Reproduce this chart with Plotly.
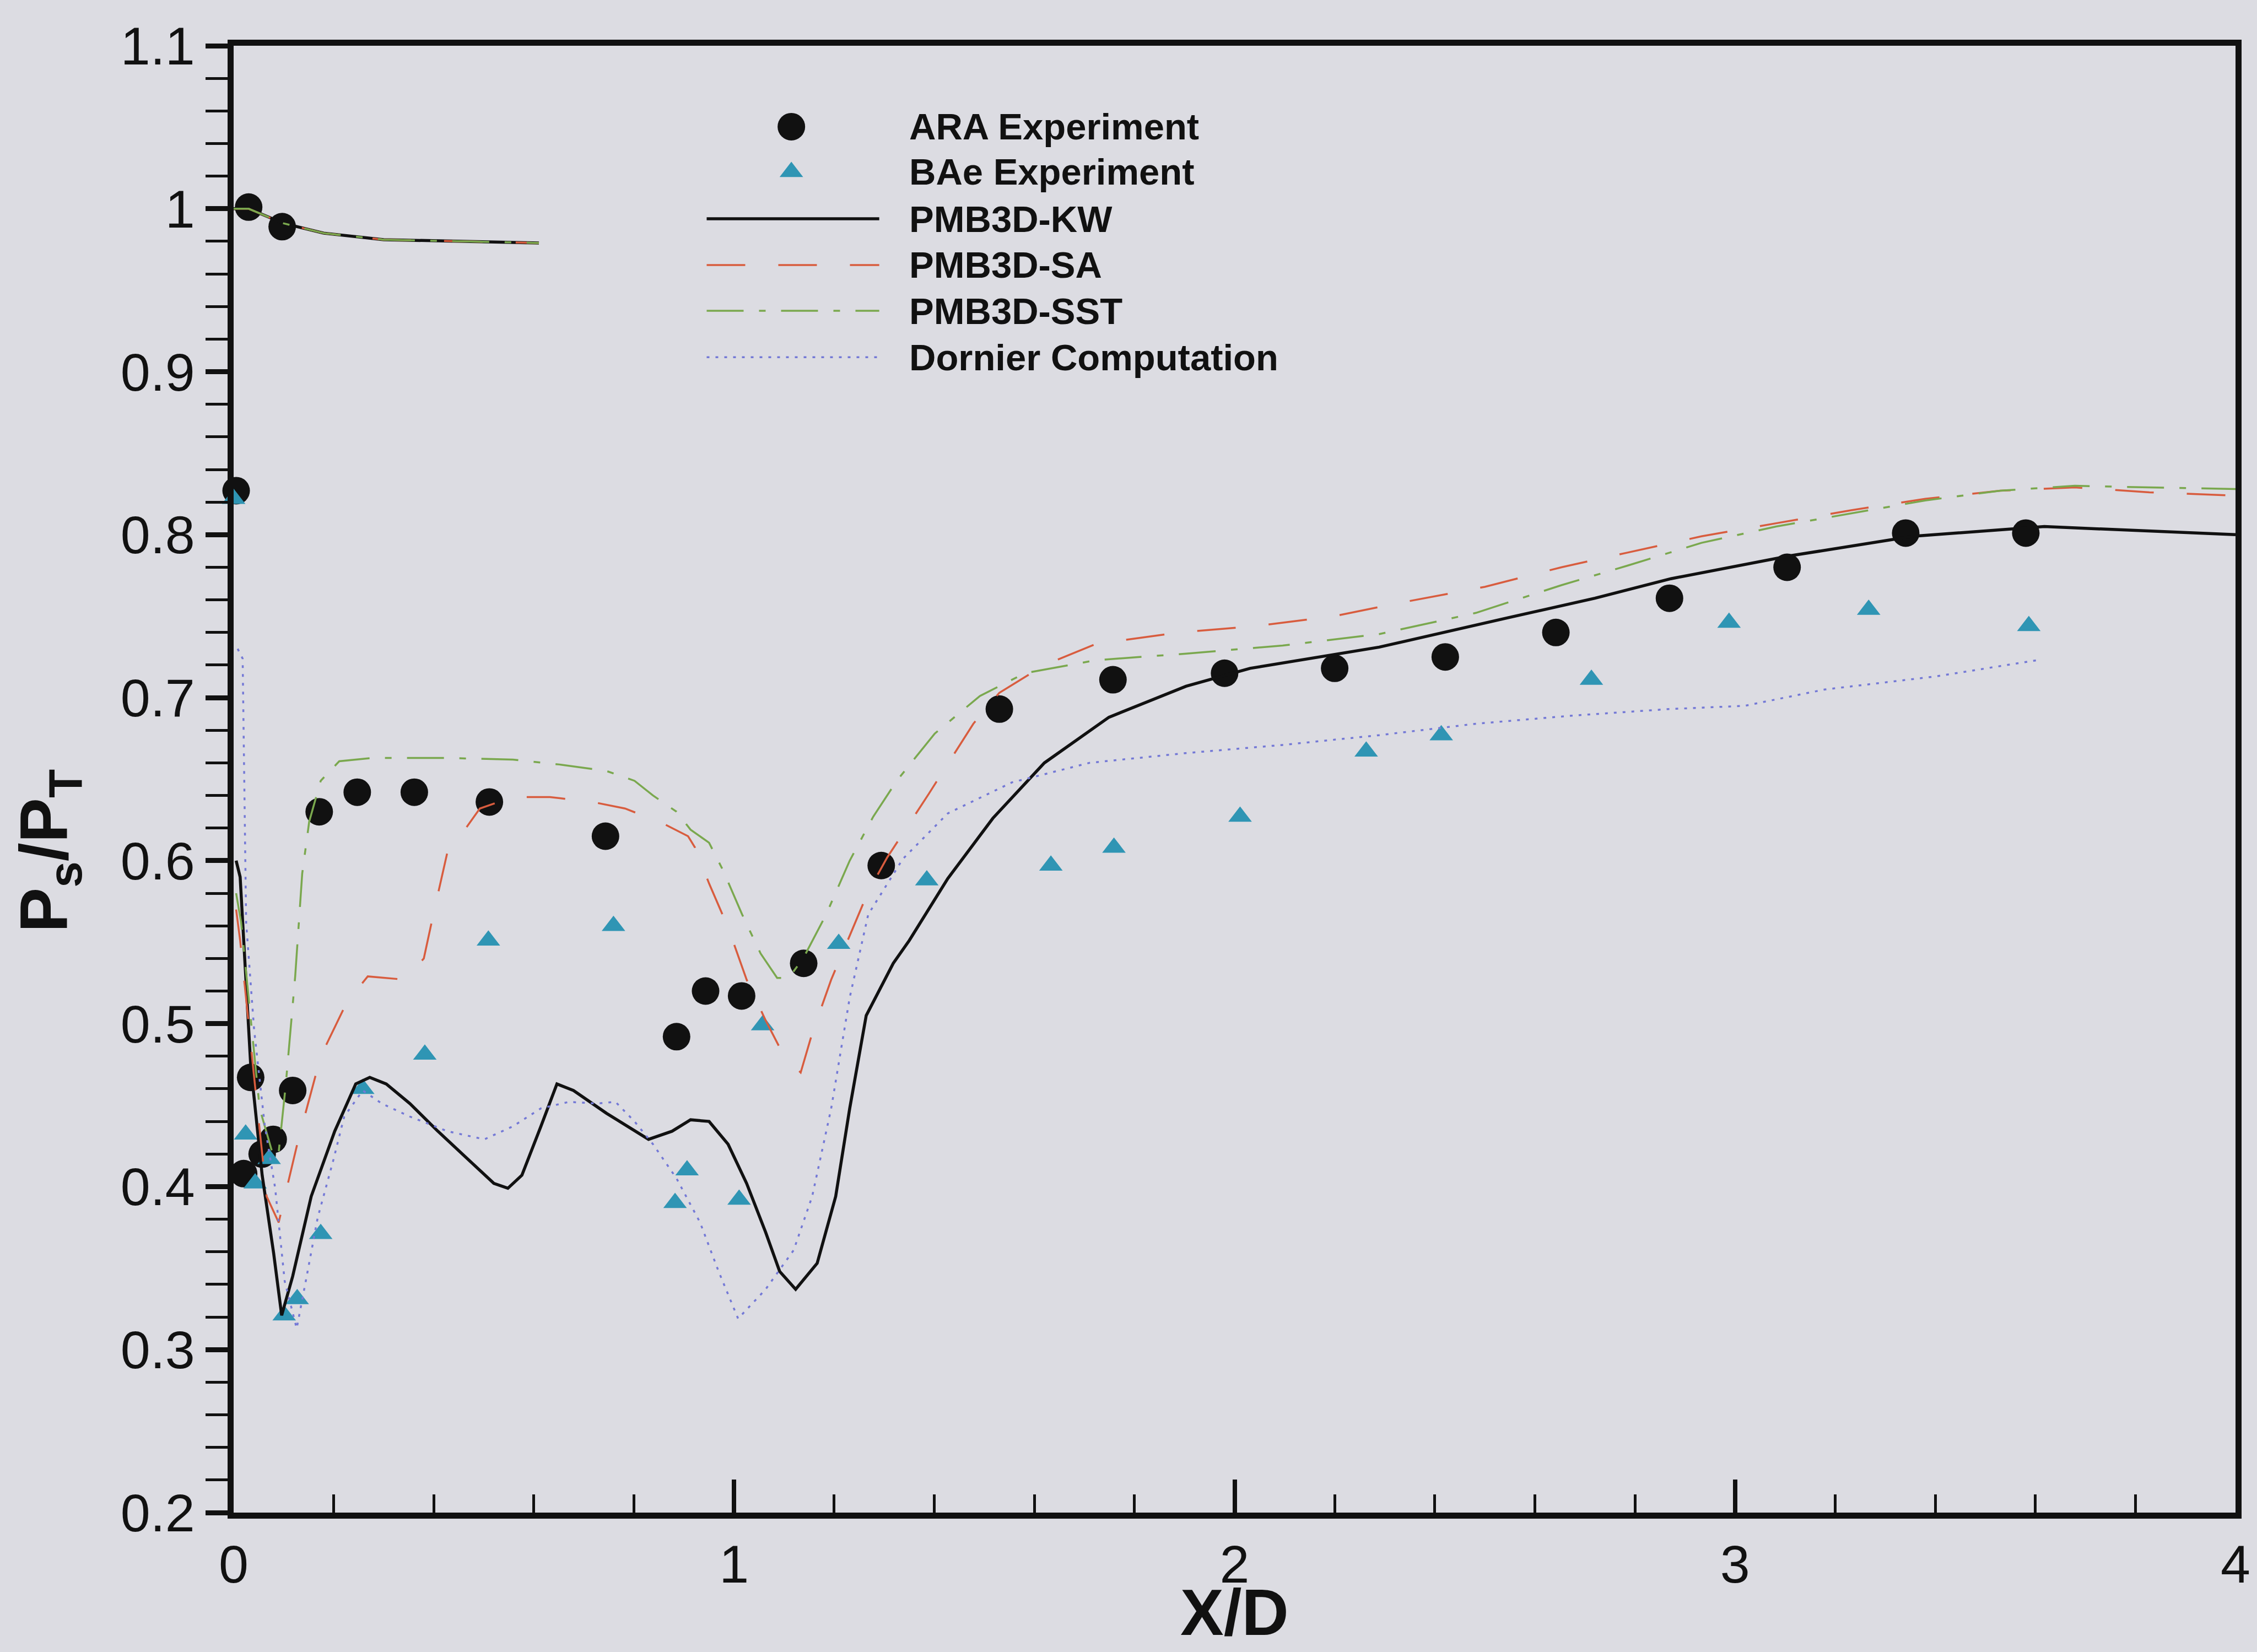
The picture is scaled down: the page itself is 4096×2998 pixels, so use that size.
import plotly.graph_objects as go

# ---------------------------------------------------------------------------
# Surface static pressure ratio along the duct, P_s/P_T versus X/D
# ---------------------------------------------------------------------------

# ARA experiment (filled circles)
ara_x = [0.005, 0.030, 0.097, 0.020, 0.034, 0.057, 0.079, 0.118, 0.171, 0.247,
         0.361, 0.511, 0.743, 0.885, 0.943, 1.015, 1.139, 1.294, 1.530, 1.757,
         1.980, 2.200, 2.421, 2.642, 2.869, 3.104, 3.341, 3.581]
ara_y = [0.827, 1.001, 0.989, 0.408, 0.467, 0.420, 0.429, 0.459, 0.630, 0.642,
         0.642, 0.636, 0.615, 0.492, 0.520, 0.517, 0.537, 0.597, 0.693, 0.711,
         0.715, 0.718, 0.725, 0.740, 0.761, 0.780, 0.801, 0.801]

# BAe experiment (triangles)
bae_x = [0.000, 0.024, 0.043, 0.071, 0.101, 0.127, 0.174, 0.258, 0.382, 0.509,
         0.759, 0.882, 0.906, 1.010, 1.057, 1.209, 1.385, 1.633, 1.759, 2.011,
         2.263, 2.413, 2.713, 2.988, 3.267, 3.587]
bae_y = [0.822, 0.432, 0.402, 0.417, 0.321, 0.331, 0.371, 0.460, 0.481, 0.551,
         0.560, 0.390, 0.410, 0.392, 0.499, 0.549, 0.588, 0.597, 0.608, 0.627,
         0.667, 0.677, 0.711, 0.746, 0.754, 0.744]

# Cowl lip (upper branch) shared by the three PMB3D solutions
lip_x = [0.00, 0.03, 0.10, 0.18, 0.30, 0.45, 0.61]
lip_y = [1.000, 1.000, 0.991, 0.985, 0.981, 0.980, 0.979]

# PMB3D k-omega
kw_x = [0.005, 0.013, 0.034, 0.057, 0.080, 0.096, 0.118, 0.155, 0.202, 0.244,
        0.272, 0.305, 0.352, 0.408, 0.464, 0.520, 0.548, 0.576, 0.614, 0.646,
        0.679, 0.745, 0.829, 0.876, 0.913, 0.950, 0.988, 1.025, 1.063, 1.091,
        1.123, 1.166, 1.203, 1.231, 1.264, 1.318, 1.350, 1.427, 1.517, 1.620,
        1.749, 1.903, 2.031, 2.289, 2.546, 2.720, 2.872, 3.109, 3.355, 3.618,
        4.000]
kw_y = [0.600, 0.590, 0.475, 0.407, 0.359, 0.321, 0.345, 0.394, 0.434, 0.463,
        0.467, 0.463, 0.451, 0.434, 0.418, 0.402, 0.399, 0.407, 0.437, 0.463,
        0.459, 0.445, 0.429, 0.434, 0.441, 0.440, 0.426, 0.402, 0.372, 0.348,
        0.337, 0.353, 0.394, 0.448, 0.505, 0.537, 0.551, 0.589, 0.626, 0.660,
        0.688, 0.707, 0.718, 0.731, 0.749, 0.761, 0.773, 0.787, 0.799, 0.805,
        0.800]

# PMB3D Spalart-Allmaras
sa_x = [0.005, 0.013, 0.040, 0.066, 0.090, 0.127, 0.174, 0.226, 0.268, 0.342,
        0.380, 0.399, 0.427, 0.455, 0.492, 0.558, 0.632, 0.717, 0.782, 0.857,
        0.908, 0.922, 0.950, 0.988, 1.025, 1.063, 1.100, 1.133, 1.156, 1.194,
        1.231, 1.268, 1.306, 1.389, 1.478, 1.530, 1.620, 1.723, 1.890, 2.045,
        2.199, 2.327, 2.500, 2.653, 2.785, 2.933, 3.082, 3.232, 3.380, 3.530,
        3.679, 3.828, 4.000]
sa_y = [0.570, 0.551, 0.470, 0.394, 0.378, 0.426, 0.480, 0.513, 0.529, 0.527,
        0.540, 0.567, 0.605, 0.616, 0.632, 0.639, 0.639, 0.636, 0.632, 0.623,
        0.615, 0.608, 0.586, 0.559, 0.527, 0.502, 0.480, 0.470, 0.494, 0.527,
        0.554, 0.581, 0.602, 0.641, 0.684, 0.703, 0.720, 0.733, 0.740, 0.744,
        0.750, 0.758, 0.768, 0.780, 0.789, 0.799, 0.807, 0.815, 0.822, 0.827,
        0.829, 0.826, 0.824]

# PMB3D k-omega SST
sst_x = [0.005, 0.015, 0.052, 0.080, 0.090, 0.104, 0.123, 0.137, 0.151, 0.174,
         0.211, 0.277, 0.427, 0.558, 0.651, 0.745, 0.801, 0.838, 0.885, 0.913,
         0.950, 0.978, 1.016, 1.053, 1.086, 1.109, 1.138, 1.184, 1.231, 1.278,
         1.325, 1.401, 1.491, 1.581, 1.723, 1.903, 2.096, 2.289, 2.482, 2.653,
         2.785, 2.933, 3.082, 3.232, 3.380, 3.530, 3.679, 3.828, 4.000]
sst_y = [0.580, 0.562, 0.448, 0.418, 0.421, 0.462, 0.529, 0.592, 0.624, 0.649,
         0.661, 0.663, 0.663, 0.662, 0.659, 0.655, 0.649, 0.640, 0.630, 0.619,
         0.611, 0.594, 0.567, 0.543, 0.528, 0.528, 0.540, 0.567, 0.600, 0.627,
         0.649, 0.678, 0.701, 0.715, 0.723, 0.727, 0.732, 0.739, 0.752, 0.769,
         0.781, 0.795, 0.805, 0.813, 0.821, 0.827, 0.830, 0.829, 0.828]

# Dornier computation
dornier_x = [0.008, 0.018, 0.025, 0.041, 0.062, 0.083, 0.102, 0.126, 0.146, 0.168,
             0.199, 0.221, 0.258, 0.296, 0.352, 0.427, 0.501, 0.558, 0.614, 0.670,
             0.726, 0.763, 0.801, 0.838, 0.885, 0.932, 0.969, 1.008, 1.063, 1.119,
             1.156, 1.194, 1.231, 1.268, 1.337, 1.427, 1.555, 1.710, 1.903, 2.096,
             2.289, 2.482, 2.675, 2.868, 3.019, 3.179, 3.400, 3.604]
dornier_y = [0.730, 0.724, 0.562, 0.496, 0.438, 0.399, 0.342, 0.313, 0.345, 0.381,
             0.416, 0.443, 0.459, 0.451, 0.443, 0.434, 0.429, 0.437, 0.448, 0.452,
             0.451, 0.452, 0.440, 0.426, 0.405, 0.378, 0.348, 0.319, 0.337, 0.361,
             0.394, 0.448, 0.516, 0.567, 0.601, 0.629, 0.648, 0.660, 0.666, 0.671,
             0.677, 0.684, 0.689, 0.693, 0.695, 0.705, 0.713, 0.723]

x_tick_vals = [0, 1, 2, 3, 4]
x_tick_text = ["0", "1", "2", "3", "4"]
y_tick_vals = [0.2, 0.3, 0.4, 0.5, 0.6, 0.7, 0.8, 0.9, 1.0, 1.1]
y_tick_text = ["0.2", "0.3", "0.4", "0.5", "0.6", "0.7", "0.8", "0.9", "1", "1.1"]

series_names = ["ARA Experiment", "BAe Experiment", "PMB3D-KW",
                "PMB3D-SA", "PMB3D-SST", "Dornier Computation"]

# ---------------------------------------------------------------------------
# Styling
# ---------------------------------------------------------------------------
BG = "#dcdce2"
FONT = "Liberation Sans, Arial, Helvetica, sans-serif"
BLACK = "#111111"
TRI = "#2f95b4"
RED = "#d85c3e"
GREEN = "#7aa84e"
BLUE = "#7479d6"

line_styles = {
    "PMB3D-KW": dict(color=BLACK, width=5.5, dash="solid"),
    "PMB3D-SA": dict(color=RED, width=3.5, dash="70px,60px"),
    "PMB3D-SST": dict(color=GREEN, width=3.5, dash="67px,28px,12px,28px"),
    "Dornier Computation": dict(color=BLUE, width=3.5, dash="5px,11px"),
}
circle_marker = dict(symbol="circle", size=50, color=BLACK, line=dict(width=0))
tri_marker = dict(symbol="triangle-up", size=37, color=TRI, line=dict(width=0))


def with_lip(x, y):
    """Prepend the cowl-lip branch, separated by a gap."""
    return lip_x + [None] + x, lip_y + [None] + y


fig = go.Figure()

fig.add_trace(go.Scatter(x=ara_x, y=ara_y, mode="markers", name=series_names[0],
                         marker=circle_marker, cliponaxis=False))
fig.add_trace(go.Scatter(x=bae_x, y=bae_y, mode="markers", name=series_names[1],
                         marker=tri_marker, cliponaxis=False))

kx, ky = with_lip(kw_x, kw_y)
sx, sy = with_lip(sa_x, sa_y)
tx, ty = with_lip(sst_x, sst_y)
for name, xs, ys in [("PMB3D-KW", kx, ky), ("PMB3D-SA", sx, sy),
                     ("PMB3D-SST", tx, ty),
                     ("Dornier Computation", dornier_x, dornier_y)]:
    fig.add_trace(go.Scatter(x=xs, y=ys, mode="lines", name=name,
                             line=line_styles[name], connectgaps=False))

# ---------------------------------------------------------------------------
# Key drawn on an overlay axis pair spanning the plot area (0..1 each way)
# ---------------------------------------------------------------------------
key_sym_x = 0.2786
key_line_x = [0.2363, 0.3225]
key_text_x = 0.3368
key_rows = [0.9448, 0.9140, 0.8820, 0.8505, 0.8193, 0.7877]

fig.add_trace(go.Scatter(x=[key_sym_x], y=[key_rows[0]], mode="markers",
                         marker=dict(circle_marker, size=50), xaxis="x2", yaxis="y2",
                         showlegend=False, hoverinfo="skip"))
fig.add_trace(go.Scatter(x=[key_sym_x], y=[key_rows[1]], mode="markers",
                         marker=dict(tri_marker, size=37), xaxis="x2", yaxis="y2",
                         showlegend=False, hoverinfo="skip"))
for name, row in zip(series_names[2:], key_rows[2:]):
    fig.add_trace(go.Scatter(x=key_line_x, y=[row, row], mode="lines",
                             line=line_styles[name], xaxis="x2", yaxis="y2",
                             showlegend=False, hoverinfo="skip"))

annotations = []
for name, row in zip(series_names, key_rows):
    annotations.append(dict(
        x=key_text_x, y=row, xref="x2", yref="y2", text=name, showarrow=False,
        xanchor="left", yanchor="middle",
        font=dict(family=FONT, size=67, color=BLACK, weight="bold")))

# Axis titles
annotations.append(dict(
    x=0.5001, y=-0.0680, xref="paper", yref="paper", text="X/D", showarrow=False,
    xanchor="center", yanchor="middle", borderpad=0,
    font=dict(family=FONT, size=118, color=BLACK, weight="bold")))
annotations.append(dict(
    x=-0.0920, y=0.4510, xref="paper", yref="paper",
    text="P<sub>s</sub>/P<sub>T</sub>", showarrow=False, textangle=-90,
    xanchor="center", yanchor="middle",
    font=dict(family=FONT, size=122, color=BLACK, weight="bold")))

tick_font = dict(family=FONT, size=97, color=BLACK)

fig.update_layout(
    width=4096, height=2998,
    margin=dict(l=424, r=29, t=83, b=253, pad=0),
    paper_bgcolor=BG, plot_bgcolor=BG,
    showlegend=False,
    annotations=annotations,
    xaxis=dict(
        range=[0, 4], tickmode="array", tickvals=x_tick_vals, ticktext=x_tick_text,
        ticks="inside", ticklen=60, tickwidth=8, tickcolor=BLACK,
        minor=dict(tickmode="linear", tick0=0, dtick=0.2, ticks="inside",
                   ticklen=33, tickwidth=5, tickcolor=BLACK, showgrid=False),
        showline=True, linewidth=11, linecolor=BLACK, mirror=True,
        showgrid=False, zeroline=False, tickfont=tick_font,
    ),
    yaxis=dict(
        range=[0.2, 1.1], tickmode="array", tickvals=y_tick_vals, ticktext=y_tick_text,
        ticks="outside", ticklen=40, tickwidth=9, tickcolor=BLACK,
        minor=dict(tickmode="linear", tick0=0.2, dtick=0.02, ticks="outside",
                   ticklen=40, tickwidth=5, tickcolor=BLACK, showgrid=False),
        showline=True, linewidth=11, linecolor=BLACK, mirror=True,
        showgrid=False, zeroline=False, tickfont=tick_font,
    ),
    xaxis2=dict(domain=[0, 1], range=[0, 1], overlaying="x", anchor="y2",
                visible=False, fixedrange=True),
    yaxis2=dict(domain=[0, 1], range=[0, 1], overlaying="y", anchor="x2",
                visible=False, fixedrange=True),
)

fig.write_html("out.html")
